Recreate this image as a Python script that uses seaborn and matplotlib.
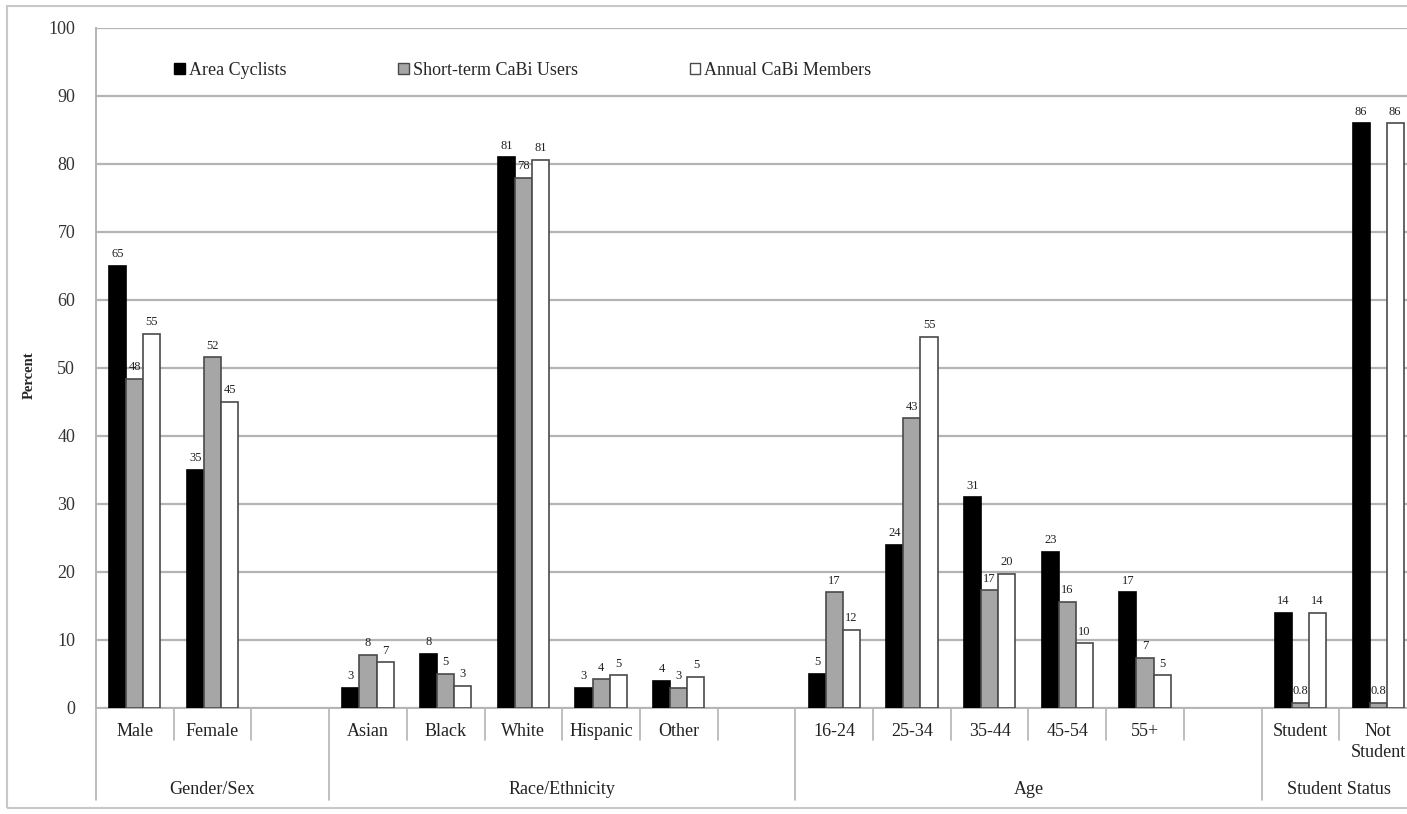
import numpy as np
import pandas as pd
import matplotlib.pyplot as plt
import matplotlib.transforms as mtransforms
from matplotlib.patches import Rectangle, Patch
import seaborn as sns

# data
categories = ["Male", "Female",
              "Asian", "Black", "White", "Hispanic", "Other",
              "16-24", "25-34", "35-44", "45-54", "55+",
              "Student", "Not\nStudent"]
area_cyclists = [65, 35, 3, 8, 81, 3, 4, 5, 24, 31, 23, 17, 14, 86]
short_term = [48.4, 51.6, 7.8, 5.0, 78, 4.2, 3.0, 17, 42.6, 17.3, 15.6, 7.4, 0.8, 0.8]
annual_members = [55, 45, 6.7, 3.3, 80.6, 4.8, 4.6, 11.5, 54.6, 19.7, 9.5, 4.8, 14, 86]
series_names = ["Area Cyclists", "Short-term CaBi Users", "Annual CaBi Members"]
groups = ["Gender/Sex", "Race/Ethnicity", "Age", "Student Status"]
group_sizes = [2, 5, 5, 2]

# slot order with one empty slot after each group (except the last)
order = []
pos = 0
group_spans = []
start = 0
for gi, n in enumerate(group_sizes):
    order += categories[pos:pos + n]
    pos += n
    if gi < len(group_sizes) - 1:
        order.append(" " * (gi + 1))
    group_spans.append((start, len(order) - 1))
    start = len(order)

df = pd.DataFrame({
    "category": categories * 3,
    "series": np.repeat(series_names, len(categories)),
    "value": area_cyclists + short_term + annual_members,
})

sns.set_style("white")
plt.rcParams['font.family'] = ['Liberation Serif', 'DejaVu Serif']

fig = plt.figure(figsize=(14.07, 8.14), dpi=100)
ax = fig.add_axes([96 / 1407, 1 - 708 / 814, 1321 / 1407, 680 / 814])

colors = ["#000000", "#a6a6a6", "#ffffff"]
edges = ["#000000", "#4a4a4a", "#4a4a4a"]
sns.barplot(data=df, x="category", y="value", hue="series", order=order,
            hue_order=series_names, palette=colors, width=0.66,
            linewidth=1.2, ax=ax, legend=False, zorder=3)

for cont, ec in zip(ax.containers, edges):
    for bar in cont:
        bar.set_edgecolor(ec)
    ax.bar_label(cont, fmt=lambda v: f"{int(v + 0.5)}" if v >= 1 else f"{v:.1f}",
                 padding=4, fontsize=9, color="#222222")

ax.set_xlim(-0.5, len(order) - 0.5)
ax.set_ylim(0, 100)
ax.set_yticks(range(0, 101, 10))
ax.yaxis.grid(True, color="#b4b4b4", linewidth=1.6, zorder=0)
ax.set_axisbelow(True)
ax.tick_params(axis="y", direction="out", length=7, width=1, color="#b4b4b4",
               labelsize=13, labelcolor="#333333", pad=8)
ax.tick_params(axis="x", length=0, labelbottom=False)
for s in ["top", "right"]:
    ax.spines[s].set_visible(False)
for s in ["left", "bottom"]:
    ax.spines[s].set_color("#b4b4b4")
    ax.spines[s].set_linewidth(1.4)
ax.set_xlabel("")
ax.set_ylabel("Percent", fontsize=10.5, fontweight="bold")
ax.yaxis.set_label_coords(-(96 - 36) / 1321, 0.49)

trans = mtransforms.blended_transform_factory(ax.transData, ax.transAxes)

# category labels
for i, name in enumerate(order):
    if name.strip():
        ax.text(i, -0.022, name, transform=trans, ha="center", va="top",
                fontsize=13, color="#222222", linespacing=1.3)

# separators
group_bounds = [-0.5] + [b + 0.5 for _, b in group_spans]
for b in np.arange(-0.5, len(order)):
    low = -0.135 if b in group_bounds else -0.047
    ax.plot([b, b], [0, low], transform=trans, color="#b4b4b4",
            linewidth=1.2, clip_on=False)

# group labels
for name, (a, b) in zip(groups, group_spans):
    ax.text((a + b) / 2, -0.12, name, transform=trans, ha="center",
            va="center", fontsize=13, color="#222222")

# legend
handles = [Patch(facecolor=c, edgecolor=e, linewidth=1) for c, e in zip(colors, edges)]
ax.legend(handles, series_names, loc="center left", bbox_to_anchor=(0.047, 0.938),
          ncol=3, frameon=False, fontsize=13, handlelength=0.6, handleheight=0.6,
          handletextpad=0.2, columnspacing=6.2)

# outer frame
fig.patches.append(Rectangle((7 / 1407, 6 / 814), 1.1, 802 / 814, transform=fig.transFigure,
                             fill=False, edgecolor="#c8c8c8", linewidth=1.5))

fig.savefig("out.png", dpi=100)
